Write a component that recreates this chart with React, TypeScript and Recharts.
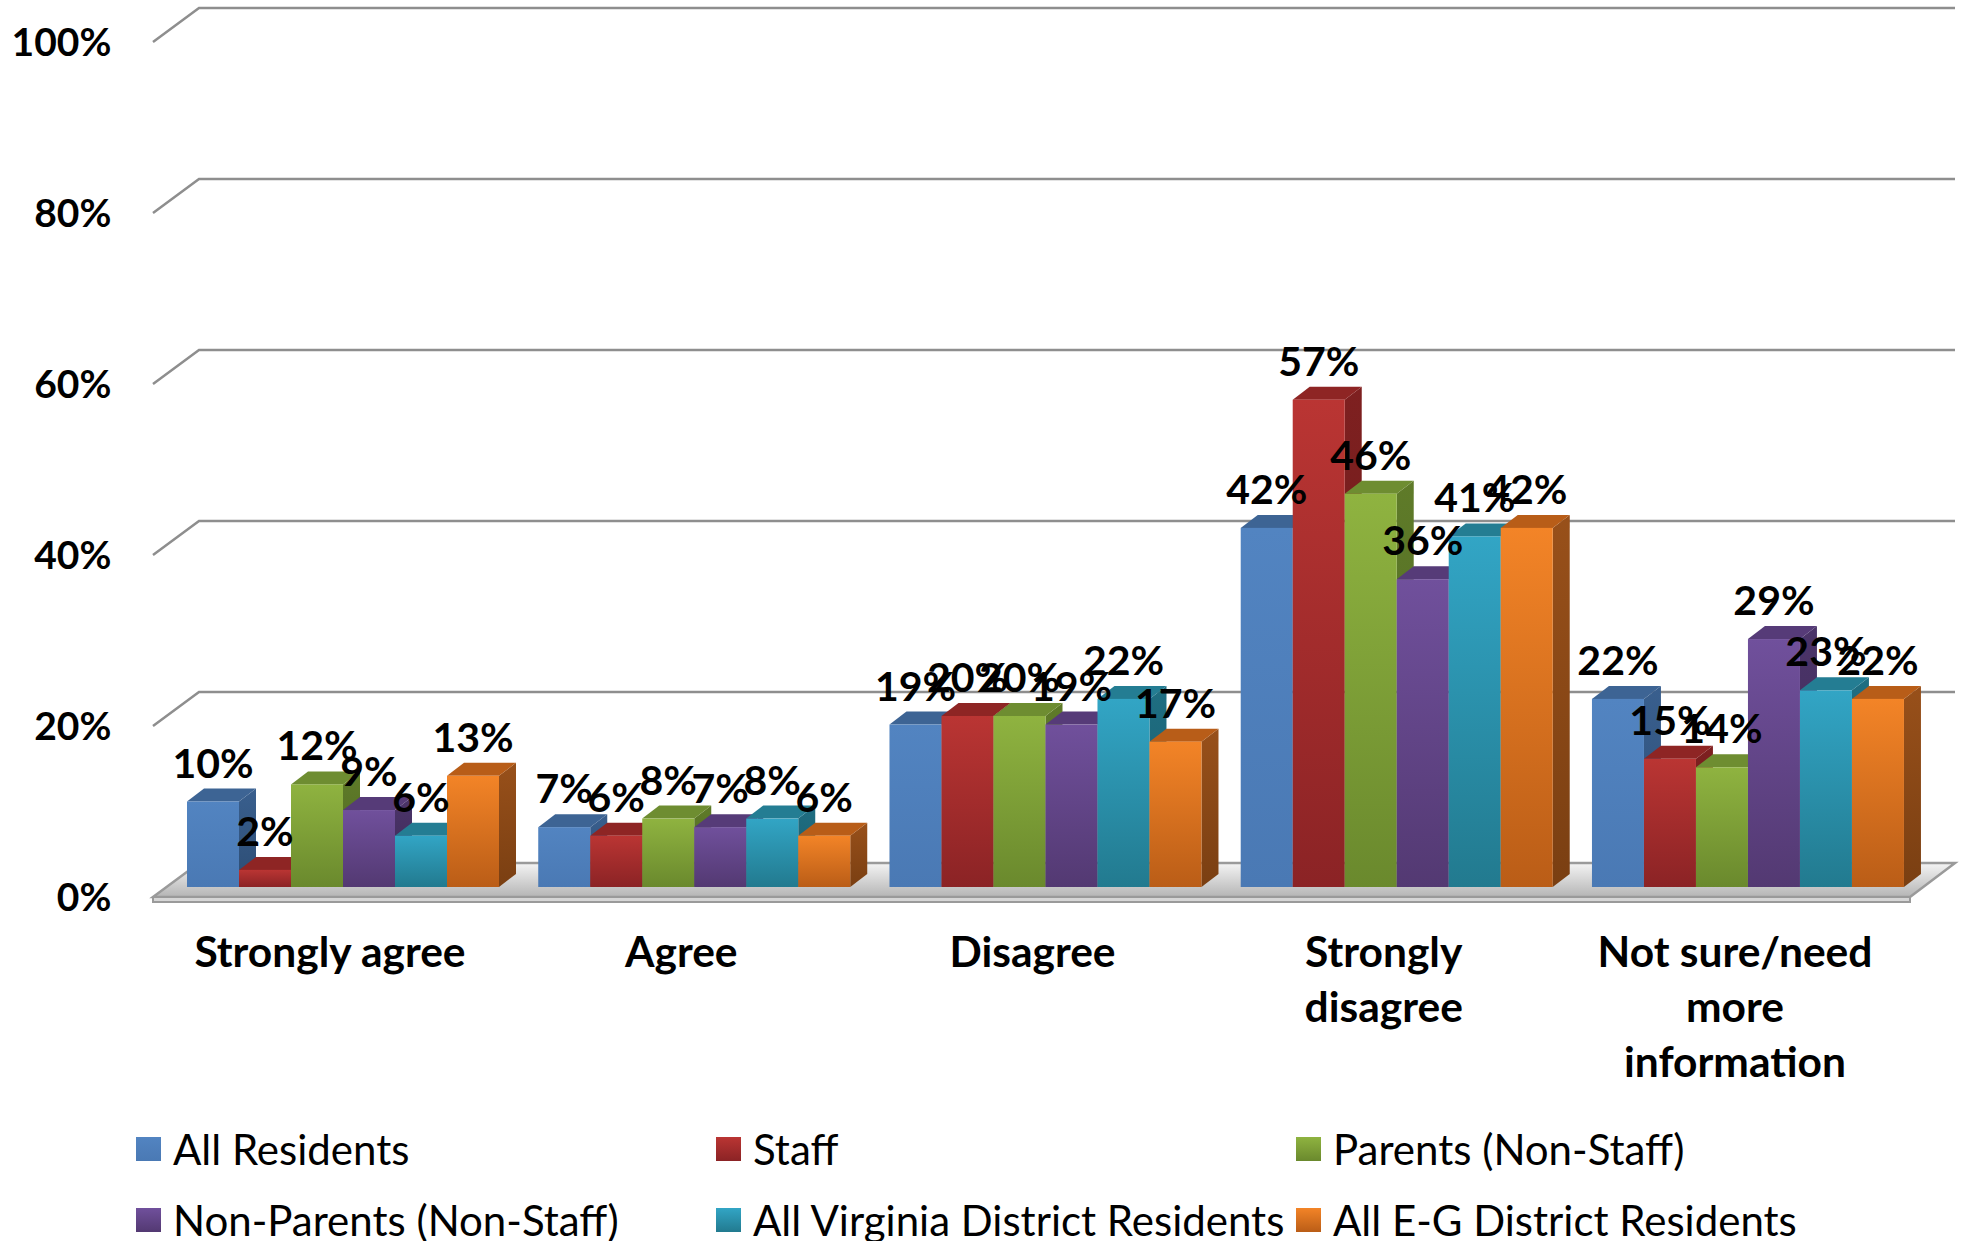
import React from 'react';
import { BarChart, Bar, XAxis, YAxis, CartesianGrid, LabelList, Legend } from 'recharts';

const categories = ['Strongly agree', 'Agree', 'Disagree', 'Strongly\ndisagree', 'Not sure/need\nmore\ninformation'];
const seriesNames = [
  'All Residents',
  'Staff',
  'Parents (Non-Staff)',
  'Non-Parents (Non-Staff)',
  'All Virginia District Residents',
  'All E-G District Residents',
];
const allResidents = [10, 7, 19, 42, 22];
const staff = [2, 6, 20, 57, 15];
const parents = [12, 8, 20, 46, 14];
const nonParents = [9, 7, 19, 36, 29];
const allVirginia = [6, 8, 22, 41, 23];
const allEG = [13, 6, 17, 42, 22];
const yTicks = [0, 20, 40, 60, 80, 100];

const seriesValues = [allResidents, staff, parents, nonParents, allVirginia, allEG];
const seriesKeys = ['s0', 's1', 's2', 's3', 's4', 's5'];

const palettes = [
  { front: ['#5284C1', '#4A79B4'], top: '#3D6494', side: ['#395F8E', '#2D4D74'], base: '#4F81BD' },
  { front: ['#BA3533', '#8B2325'], top: '#8E2524', side: ['#7E2020', '#6A1A1A'], base: '#B3302F' },
  { front: ['#8FB340', '#6A892D'], top: '#6E8D31', side: ['#5F7B29', '#4E6622'], base: '#88AD3D' },
  { front: ['#70509C', '#533972'], top: '#563B78', side: ['#4B3469', '#3D2A56'], base: '#6A4C93' },
  { front: ['#32A5C5', '#227A8F'], top: '#247D93', side: ['#1F6E82', '#195B6B'], base: '#2E9DBC' },
  { front: ['#F38427', '#BA5D17'], top: '#B85D18', side: ['#98501A', '#7A3F12'], base: '#EB7C22' },
];

const data = categories.map((c, i) => {
  const row: any = { category: c };
  seriesKeys.forEach((k, s) => {
    row[k] = seriesValues[s][i];
  });
  return row;
});

const FONT = 'Lato, "Open Sans", sans-serif';
const DX = 17;
const DY = 13;

const makeShape = (s: number) => (props: any) => {
  const { x, y, width: w, height: h, index } = props;
  if (w == null || h == null) return <g />;
  const p = palettes[s];
  const gid = `bf-${s}-${index}`;
  const sid = `bs-${s}-${index}`;
  return (
    <g>
      <defs>
        <linearGradient id={gid} x1="0" y1="0" x2="0" y2="1">
          <stop offset="0%" stopColor={p.front[0]} />
          <stop offset="100%" stopColor={p.front[1]} />
        </linearGradient>
        <linearGradient id={sid} x1="0" y1="0" x2="0" y2="1">
          <stop offset="0%" stopColor={p.side[0]} />
          <stop offset="100%" stopColor={p.side[1]} />
        </linearGradient>
      </defs>
      <polygon
        points={`${x + w},${y} ${x + w + DX},${y - DY} ${x + w + DX},${y + h - DY} ${x + w},${y + h}`}
        fill={`url(#${sid})`}
      />
      <polygon
        points={`${x},${y} ${x + DX},${y - DY} ${x + w + DX},${y - DY} ${x + w},${y}`}
        fill={p.top}
      />
      <rect x={x} y={y} width={w} height={h} fill={`url(#${gid})`} />
    </g>
  );
};

const renderGridLine = (props: any) => {
  const { x1, x2, y1, index } = props;
  const bottom = (props.y ?? 0) + (props.height ?? 0);
  const isFloor = Math.abs(y1 - bottom) < 1;
  if (isFloor) {
    return (
      <g key={`grid-${index}`}>
        <defs>
          <linearGradient id="floorGrad" x1="0" y1="0" x2="0" y2="1">
            <stop offset="0%" stopColor="#f4f4f4" />
            <stop offset="100%" stopColor="#b5b5b5" />
          </linearGradient>
        </defs>
        <polygon
          points={`${x1 - 14.4},${y1 + 10} ${x2 - 13.6},${y1 + 10} ${x2 + 31.4},${y1 - 24} ${x1 + 31.6},${y1 - 24}`}
          fill="url(#floorGrad)"
          stroke="#9a9a9a"
          strokeWidth={2.5}
        />
        <rect x={x1 - 14.4} y={y1 + 10} width={x2 - x1 + 0.8} height={5} fill="#d6d6d6" stroke="#9a9a9a" strokeWidth={2} />
      </g>
    );
  }
  return (
    <path
      key={`grid-${index}`}
      d={`M${x1 - 14.4},${y1 + 10} L${x1 + 31.6},${y1 - 24} L${x2 + 31.4},${y1 - 24}`}
      fill="none"
      stroke="#8e8e8e"
      strokeWidth={2.5}
    />
  );
};

const YTick = (props: any) => {
  const { x, y, payload } = props;
  return (
    <text x={x - 56} y={y + 24} textAnchor="end" fontFamily={FONT} fontWeight={700} fontSize={39} fill="#000">
      {`${payload.value}%`}
    </text>
  );
};

const XTick = (props: any) => {
  const { x, y, payload } = props;
  const lines = String(payload.value).split('\n');
  return (
    <g>
      {lines.map((ln, i) => (
        <text
          key={i}
          x={x - 13}
          y={y + 80 + i * 55}
          textAnchor="middle"
          fontFamily={FONT}
          fontWeight={700}
          fontSize={42.5}
          fill="#000"
        >
          {ln}
        </text>
      ))}
    </g>
  );
};

const renderLabel = (props: any) => {
  const { x, y, width, value } = props;
  return (
    <text
      x={x + width / 2}
      y={y - 24}
      textAnchor="middle"
      fontFamily={FONT}
      fontWeight={700}
      fontSize={41}
      fill="#000"
    >
      {`${value}%`}
    </text>
  );
};

const renderLegend = (props: any) => {
  const payload = props.payload || [];
  return (
    <div style={{ position: 'relative', width: 1963, height: 121 }}>
      {payload.map((entry: any, i: number) => {
        const s = seriesKeys.indexOf(entry.dataKey);
        const idx = s >= 0 ? s : i;
        const col = idx % 3;
        const row = Math.floor(idx / 3);
        const p = palettes[idx];
        return (
          <div
            key={idx}
            style={{
              position: 'absolute',
              left: 136 + col * 580,
              top: 17 + row * 71,
              height: 24,
              display: 'flex',
              alignItems: 'center',
              whiteSpace: 'nowrap',
            }}
          >
            <div
              style={{
                width: 25,
                height: 24,
                background: `linear-gradient(${p.front[0]}, ${p.front[1]})`,
                marginRight: 12,
              }}
            />
            <span style={{ fontFamily: FONT, fontSize: 42, lineHeight: '24px', color: '#000' }}>
              {seriesNames[idx]}
            </span>
          </div>
        );
      })}
    </div>
  );
};

export default function App() {
  return (
    <div style={{ position: 'absolute', left: 0, top: 0, width: 1963, height: 1241, background: '#fff' }}>
      <BarChart
        width={1963}
        height={1241}
        data={data}
        margin={{ top: 32, right: 39.4, bottom: 294, left: 67.4 }}
        barCategoryGap={19.6}
        barGap={0}
      >
        <CartesianGrid vertical={false} horizontal={renderGridLine} />
        <XAxis
          dataKey="category"
          interval={0}
          tickLine={false}
          axisLine={false}
          tickSize={0}
          tickMargin={0}
          height={60}
          tick={<XTick />}
        />
        <YAxis
          type="number"
          domain={[0, 100]}
          ticks={yTicks}
          interval={0}
          width={100}
          tickLine={false}
          axisLine={false}
          tickSize={0}
          tickMargin={0}
          tick={<YTick />}
        />
        <Legend
          layout="vertical"
          align="center"
          verticalAlign="middle"
          content={renderLegend}
          wrapperStyle={{ position: 'absolute', left: 0, top: 1120, width: 1963, height: 121 }}
        />
        {seriesKeys.map((k, s) => (
          <Bar
            key={k}
            dataKey={k}
            name={seriesNames[s]}
            fill={palettes[s].base}
            isAnimationActive={false}
            shape={makeShape(s)}
          >
            <LabelList dataKey={k} content={renderLabel} />
          </Bar>
        ))}
      </BarChart>
    </div>
  );
}
